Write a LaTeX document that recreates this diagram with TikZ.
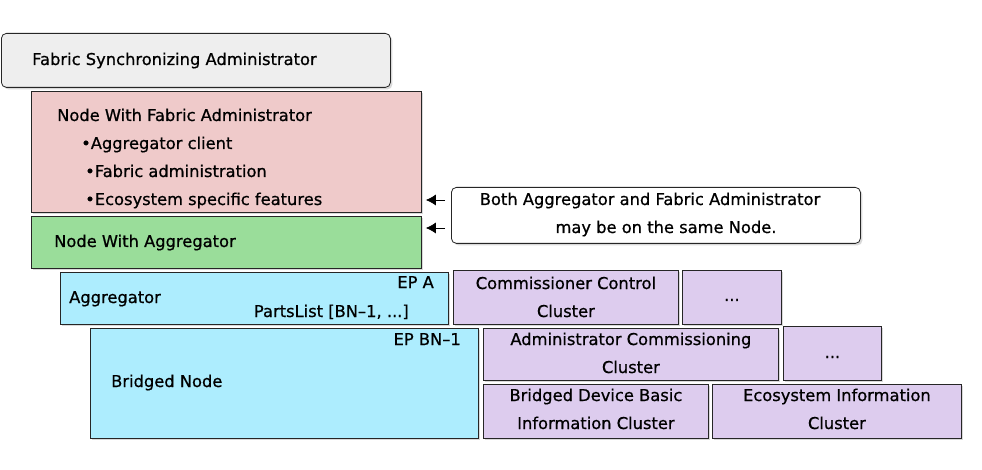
\documentclass[tikz,border=0pt]{standalone}
\usepackage{fontspec}
\setmainfont{DejaVu Sans}[BoldFont={DejaVu Sans}, BoldFeatures={FakeBold=0.7}]
\usetikzlibrary{arrows.meta, positioning, shadows}

\definecolor{fsagray}{HTML}{EEEEEE}
\definecolor{adminpink}{HTML}{EFCACA}
\definecolor{aggrgreen}{HTML}{9ADD9A}
\definecolor{epcyan}{HTML}{ADEDFE}
\definecolor{clusterlilac}{HTML}{DDCCEE}

\begin{document}
\begin{tikzpicture}[x=1pt, y=-1pt,
  box/.style={draw=black!85, line width=0.8pt, anchor=north west, inner sep=0pt,
    drop shadow={shadow xshift=2pt, shadow yshift=-2pt, opacity=0.3}},
  txt/.style={inner sep=0pt, anchor=base west, font=\fontsize{16.3}{16}\selectfont\bfseries},
  ctxt/.style={txt, anchor=base},
  arr/.style={-{Latex[length=10pt, width=11pt]}, line width=0.8pt, shorten >=4pt},
  ]
\useasboundingbox (0,0) rectangle (982,470);

% boxes
\node[box, rounded corners=5pt, fill=fsagray, minimum width=389pt, minimum height=54pt] (fsa) at (1,33) {};
\node[box, fill=adminpink, minimum width=390pt, minimum height=121pt] (fadmin) at (31,91) {};
\node[box, fill=aggrgreen, minimum width=390pt, minimum height=52pt] (nagg) at (31,216) {};
\node[box, rounded corners=5pt, fill=white, minimum width=409pt, minimum height=56pt] (note) at (451,187) {};
\node[box, fill=epcyan, minimum width=388pt, minimum height=52pt] (aggr) at (60,272) {};
\node[box, fill=clusterlilac, minimum width=225pt, minimum height=54pt] (cc) at (453,270) {};
\node[box, fill=clusterlilac, minimum width=99pt, minimum height=54pt] (ccmore) at (682,270) {};
\node[box, fill=epcyan, minimum width=388pt, minimum height=110pt] (bn) at (90,328) {};
\node[box, fill=clusterlilac, minimum width=295pt, minimum height=52pt] (acc) at (483,328) {};
\node[box, fill=clusterlilac, minimum width=98pt, minimum height=54pt] (accmore) at (783,326) {};
\node[box, fill=clusterlilac, minimum width=225pt, minimum height=54pt] (bdbi) at (483,384) {};
\node[box, fill=clusterlilac, minimum width=249pt, minimum height=54pt] (eco) at (712,384) {};

% texts
\node[txt] (fsatxt) at (32,65) {Fabric Synchronizing Administrator};
\node[txt] (fadmintxt) at (57,121) {Node With Fabric Administrator};
\node[txt] (bulleta) at (81,149) {•Aggregator client};
\node[txt] (bulletb) at (85,177) {•Fabric administration};
\node[txt] (bulletc) at (85,205) {•Ecosystem specific features};
\node[txt] (naggtxt) at (54,247) {Node With Aggregator};
\node[ctxt] (notea) at (650,205) {Both Aggregator and Fabric Administrator};
\node[ctxt] (noteb) at (666,233) {may be on the same Node.};
\node[txt] (aggrtxt) at (69,303) {Aggregator};
\node[txt, anchor=base east] (epa) at (434,288) {EP A};
\node[txt, anchor=base east] (parts) at (409,317) {PartsList [BN–1, ...]};
\node[ctxt] (cca) at (cc.center |- 0,289) {Commissioner Control};
\node[ctxt] (ccb) at (cc.center |- 0,317) {Cluster};
\node[ctxt] (ccdots) at (ccmore.center |- 0,301) {...};
\node[txt] (bntxt) at (111,387) {Bridged Node};
\node[txt, anchor=base east] (epbn) at (461,345) {EP BN–1};
\node[ctxt] (acca) at (acc.center |- 0,345) {Administrator Commissioning};
\node[ctxt] (accb) at (acc.center |- 0,373) {Cluster};
\node[ctxt] (accdots) at (accmore.center |- 0,358) {...};
\node[ctxt] (bdbia) at (bdbi.center |- 0,401) {Bridged Device Basic};
\node[ctxt] (bdbib) at (bdbi.center |- 0,429) {Information Cluster};
\node[ctxt] (ecoa) at (eco.center |- 0,401) {Ecosystem Information};
\node[ctxt] (ecob) at (eco.center |- 0,429) {Cluster};

% note arrows
\coordinate (arra) at (445,200);
\coordinate (arrb) at (445,228);
\draw[arr] (arra) -- (fadmin.east |- arra);
\draw[arr] (arrb) -- (nagg.east |- arrb);
\end{tikzpicture}
\end{document}
